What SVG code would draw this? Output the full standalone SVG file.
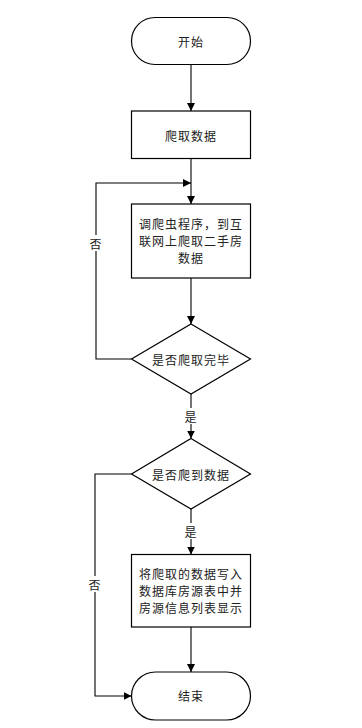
<svg xmlns="http://www.w3.org/2000/svg" width="362" height="728" viewBox="0 0 362 728">
<defs>
<marker id="arr" viewBox="0 0 10 10" refX="10" refY="5" markerWidth="8" markerHeight="8" markerUnits="userSpaceOnUse" orient="auto">
<path d="M0,0 L10,5 L0,10 z" fill="#000"/>
</marker>
<style>
.shape{fill:#fff;stroke:#000;stroke-width:1.2}
.edge{fill:none;stroke:#000;stroke-width:1.1}
text{font-family:"Noto Sans CJK SC","Noto Sans CJK JP",sans-serif;font-size:12px;fill:#222;text-anchor:middle;dominant-baseline:central;letter-spacing:1px}
.lblbg{fill:#fff}
</style>
</defs>
<rect width="362" height="728" fill="#fff"/>
<g id="connectors">
<line class="edge" x1="191" y1="64.5" x2="191" y2="111" marker-end="url(#arr)"/>
<line class="edge" x1="191" y1="158.5" x2="191" y2="204" marker-end="url(#arr)"/>
<polyline class="edge" points="131.5,359 96,359 96,183 191,183" marker-end="url(#arr)"/>
<line class="edge" x1="191" y1="278" x2="191" y2="324" marker-end="url(#arr)"/>
<line class="edge" x1="191" y1="394" x2="191" y2="438.5" marker-end="url(#arr)"/>
<line class="edge" x1="191" y1="509" x2="191" y2="554.5" marker-end="url(#arr)"/>
<line class="edge" x1="191" y1="627" x2="191" y2="672" marker-end="url(#arr)"/>
<polyline class="edge" points="131.5,474 95,474 95,696 131.5,696" marker-end="url(#arr)"/>
<g id="labels">
<rect class="lblbg" x="89" y="235" width="14" height="16"/>
<text x="96" y="243">否</text>
<rect class="lblbg" x="184" y="408" width="14" height="16"/>
<text x="191" y="416">是</text>
<rect class="lblbg" x="184" y="523" width="14" height="16"/>
<text x="191" y="531">是</text>
<rect class="lblbg" x="88" y="576" width="14" height="16"/>
<text x="95" y="584">否</text>
</g>
</g>
<g id="start">
<rect class="shape" x="131.5" y="17.5" width="119" height="47" rx="23.5" ry="23.5"/>
<text x="191" y="41">开始</text>
</g>
<g id="crawl">
<rect class="shape" x="131.5" y="111" width="119" height="47.5"/>
<text x="191" y="135">爬取数据</text>
</g>
<g id="spider">
<rect class="shape" x="131.5" y="204" width="119" height="74"/>
<text x="191" y="223.5">调爬虫程序，到互</text>
<text x="191" y="240.5">联网上爬取二手房</text>
<text x="191" y="257">数据</text>
</g>
<g id="done">
<polygon class="shape" points="191,324 250.5,359 191,394 131.5,359"/>
<text x="191" y="359">是否爬取完毕</text>
</g>
<g id="gotdata">
<polygon class="shape" points="191,438.5 250.5,474 191,509 131.5,474"/>
<text x="191" y="474">是否爬到数据</text>
</g>
<g id="write">
<rect class="shape" x="131.5" y="554.5" width="119" height="72.5"/>
<text x="191" y="573.5">将爬取的数据写入</text>
<text x="191" y="590.5">数据库房源表中并</text>
<text x="191" y="607">房源信息列表显示</text>
</g>
<g id="end">
<rect class="shape" x="131.5" y="672" width="119" height="48" rx="24" ry="24"/>
<text x="191" y="695">结束</text>
</g>
</svg>
